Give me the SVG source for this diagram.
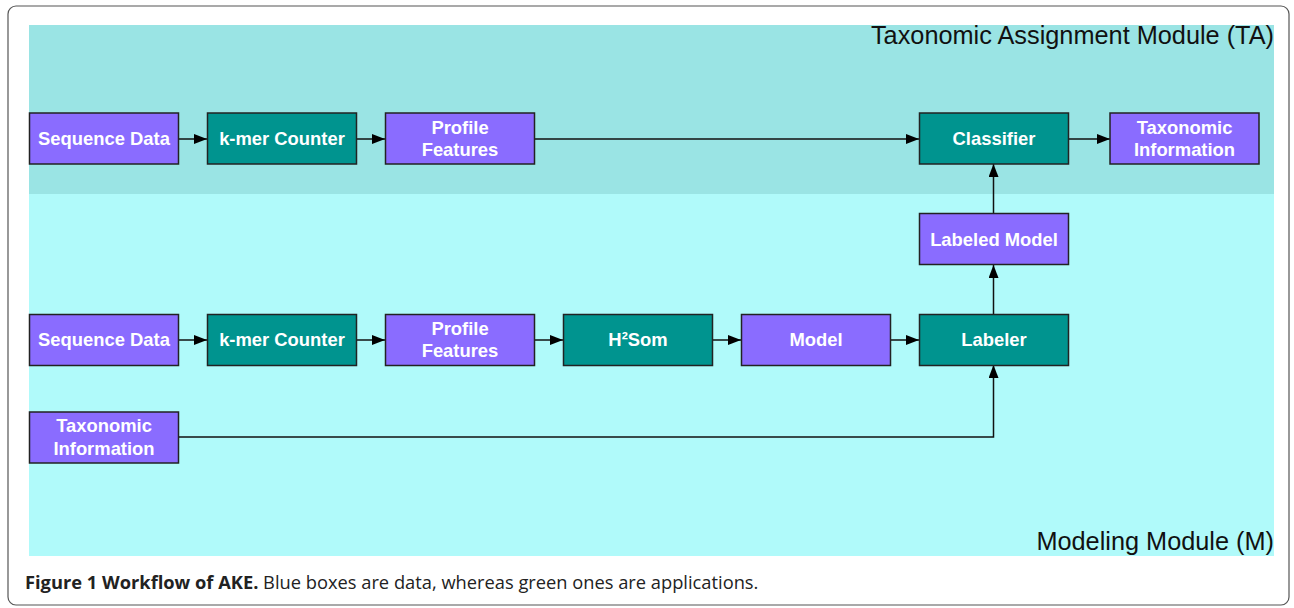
<svg xmlns="http://www.w3.org/2000/svg" width="1294" height="608" viewBox="0 0 1294 608">
  <style>
    .frame { fill: #ffffff; stroke: #555555; stroke-width: 1.2; }
    .band-ta { fill: #9ae4e4; }
    .band-m { fill: #b0fafa; }
    .data { fill: #8a6cff; stroke: #222222; stroke-width: 1.5; }
    .app { fill: #00948f; stroke: #222222; stroke-width: 1.5; }
    .lbl { font-family: "Liberation Sans", Arial, sans-serif; font-weight: bold; font-size: 18.4px; fill: #ffffff; text-anchor: middle; }
    .mod { font-family: "Liberation Sans", Arial, sans-serif; font-size: 25.3px; fill: #111111; text-anchor: end; }
    .cap { font-family: "Open Sans", "Liberation Sans", sans-serif; font-size: 18.3px; fill: #222222; }
    .edge { fill: none; stroke: #111111; stroke-width: 1.5; marker-end: url(#arrow); }
  </style>
  <defs>
    <marker id="arrow" viewBox="0 0 13 10" refX="13" refY="5" markerWidth="13" markerHeight="10" markerUnits="userSpaceOnUse" orient="auto">
      <path d="M0,0 L13,5 L0,10 Z" fill="#000000"/>
    </marker>
  </defs>

  <rect class="frame" x="8" y="6" width="1281" height="599" rx="8"/>
  <rect class="band-ta" x="29" y="25" width="1245" height="169"/>
  <rect class="band-m" x="29" y="194" width="1245" height="362"/>
  <text class="mod" x="1274" y="44">Taxonomic Assignment Module (TA)</text>
  <text class="mod" x="1274" y="550">Modeling Module (M)</text>

  <g id="connectors">
    <line class="edge" x1="178" y1="139" x2="207" y2="139"/>
    <line class="edge" x1="356" y1="139" x2="385" y2="139"/>
    <line class="edge" x1="534" y1="139" x2="919" y2="139"/>
    <line class="edge" x1="1068" y1="139" x2="1110" y2="139"/>
    <line class="edge" x1="178" y1="340" x2="207" y2="340"/>
    <line class="edge" x1="356" y1="340" x2="385" y2="340"/>
    <line class="edge" x1="534" y1="340" x2="563" y2="340"/>
    <line class="edge" x1="712" y1="340" x2="741" y2="340"/>
    <line class="edge" x1="890" y1="340" x2="919" y2="340"/>
    <line class="edge" x1="993.5" y1="314" x2="993.5" y2="265"/>
    <line class="edge" x1="993.5" y1="213" x2="993.5" y2="164"/>
    <polyline class="edge" points="178,437 993.5,437 993.5,365"/>
  </g>

  <g id="ta-sequence-data">
    <rect class="data" x="29.5" y="113" width="149" height="51"/>
    <text class="lbl" x="104" y="145">Sequence Data</text>
  </g>
  <g id="ta-kmer-counter">
    <rect class="app" x="207.5" y="113" width="149" height="51"/>
    <text class="lbl" x="282" y="145">k-mer Counter</text>
  </g>
  <g id="ta-profile-features">
    <rect class="data" x="385.5" y="113" width="149" height="51"/>
    <text class="lbl" x="460" y="134">Profile</text>
    <text class="lbl" x="460" y="156">Features</text>
  </g>
  <g id="classifier">
    <rect class="app" x="919.5" y="113" width="149" height="51"/>
    <text class="lbl" x="994" y="145">Classifier</text>
  </g>
  <g id="ta-taxonomic-information">
    <rect class="data" x="1110" y="113" width="149" height="51"/>
    <text class="lbl" x="1184.5" y="134">Taxonomic</text>
    <text class="lbl" x="1184.5" y="156">Information</text>
  </g>
  <g id="labeled-model">
    <rect class="data" x="919.5" y="213.5" width="149" height="51"/>
    <text class="lbl" x="994" y="246">Labeled Model</text>
  </g>

  <g id="m-sequence-data">
    <rect class="data" x="29.5" y="314.5" width="149" height="51"/>
    <text class="lbl" x="104" y="346">Sequence Data</text>
  </g>
  <g id="m-kmer-counter">
    <rect class="app" x="207.5" y="314.5" width="149" height="51"/>
    <text class="lbl" x="282" y="346">k-mer Counter</text>
  </g>
  <g id="m-profile-features">
    <rect class="data" x="385.5" y="314.5" width="149" height="51"/>
    <text class="lbl" x="460" y="335">Profile</text>
    <text class="lbl" x="460" y="357">Features</text>
  </g>
  <g id="h2som">
    <rect class="app" x="563.5" y="314.5" width="149" height="51"/>
    <text class="lbl" x="638" y="346">H²Som</text>
  </g>
  <g id="model">
    <rect class="data" x="741.5" y="314.5" width="149" height="51"/>
    <text class="lbl" x="816" y="346">Model</text>
  </g>
  <g id="labeler">
    <rect class="app" x="919.5" y="314.5" width="149" height="51"/>
    <text class="lbl" x="994" y="346">Labeler</text>
  </g>
  <g id="m-taxonomic-information">
    <rect class="data" x="29.5" y="412" width="149" height="51"/>
    <text class="lbl" x="104" y="432">Taxonomic</text>
    <text class="lbl" x="104" y="455">Information</text>
  </g>

  <text class="cap" x="25" y="589"><tspan font-weight="bold">Figure 1 Workflow of AKE.</tspan> Blue boxes are data, whereas green ones are applications.</text>
</svg>
